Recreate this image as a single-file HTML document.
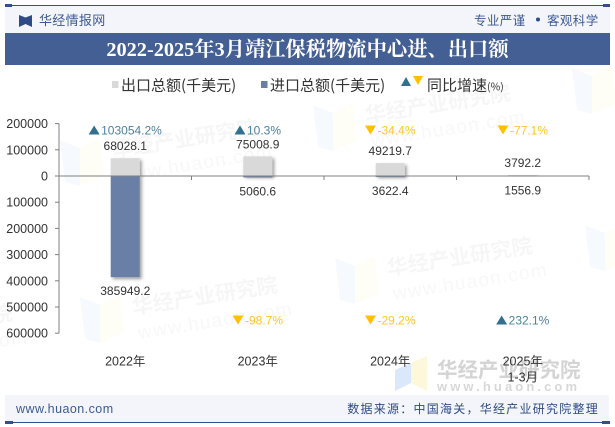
<!DOCTYPE html>
<html lang="zh">
<head>
<meta charset="utf-8">
<title>2022-2025年3月靖江保税物流中心进、出口额</title>
<style>
html,body{margin:0;padding:0;background:#fff;}
#stage{position:relative;width:615px;height:427px;overflow:hidden;background:#fff;}
svg{position:absolute;left:0;top:0;display:block;}
text{font-family:"Liberation Sans","Noto Sans CJK SC",sans-serif;}
.cjk{font-family:"Noto Sans CJK SC","WenQuanYi Zen Hei",sans-serif;}
.serif{font-family:"Liberation Serif","Noto Serif CJK SC",serif;}
</style>
</head>
<body>
<div id="stage">
<svg id="chart" width="615" height="427" viewBox="0 0 615 427" xmlns="http://www.w3.org/2000/svg">
  <defs>
    <filter id="barShadow" x="-30%" y="-30%" width="170%" height="170%">
      <feDropShadow dx="2" dy="2" stdDeviation="1.6" flood-color="#000" flood-opacity="0.38"/>
    </filter>
    <g id="wm">
      <polygon points="0,0 20,8 20,46 5,42" fill="#4a86d8" opacity="0.05"/>
      <polygon points="20,8 40,-2 44,36 20,46" fill="#f5d860" opacity="0.06"/>
      <g transform="rotate(-9 50 10)">
        <text x="52" y="18" font-size="21" font-weight="700" fill="#000" opacity="0.03" class="cjk">华经产业研究院</text>
        <text x="54" y="43" font-size="19" letter-spacing="1.3" fill="#000" opacity="0.028">www.huaon.com</text>
      </g>
    </g>
  </defs>

  <g>
    <use href="#wm" x="60" y="140"/>
    <use href="#wm" x="313" y="105"/>
    <use href="#wm" x="80" y="297"/>
    <use href="#wm" x="335" y="258"/>
    <use href="#wm" x="-185" y="325"/>
    <use href="#wm" x="585" y="225"/>
    <use href="#wm" x="572" y="68"/>
  </g>

  <g>
    <polygon points="395,370 411,363 411,383 395,391" fill="#dbe8fb"/>
    <polygon points="411,363 427,356 427,391 411,383" fill="#fdf8dc"/>
    <text x="437" y="377" font-size="20.5" font-weight="700" fill="#d4d4d4" class="cjk">华经产业研究院</text>
    <text x="437" y="391" font-size="13" font-weight="700" letter-spacing="3.1" fill="#d8d8d8">www.huaon.com</text>
  </g>

  <g>
    <rect x="5" y="6" width="605" height="27" fill="#f3f5fa"/>
    <rect x="5" y="5" width="605" height="1" fill="#32508f"/>
    <rect x="5" y="4" width="7" height="3" fill="#32508f"/>
    <rect x="603" y="4" width="7" height="3" fill="#32508f"/>
    <polygon points="19,15 25.500,17.500 25.500,24 19,27" fill="#2f4b87"/>
    <polygon points="32,15 25.500,17.500 25.500,24 32,27" fill="#2f4b87"/>
    <text x="39" y="25" font-size="13" letter-spacing="0.3" fill="#3e5a94" class="cjk">华经情报网</text>
    <text x="474" y="25" font-size="12.5" letter-spacing="0.4" fill="#3e5a94" class="cjk">专业严谨</text>
    <circle cx="538" cy="19.500" r="2" fill="#2f4b87"/>
    <text x="547" y="25" font-size="12.5" letter-spacing="0.4" fill="#3e5a94" class="cjk">客观科学</text>
    <rect x="5" y="33" width="605" height="32" fill="#445f94"/>
    <text x="307.500" y="56" font-size="20.3" font-weight="700" fill="#fff" text-anchor="middle" class="serif">2022-2025年3月靖江保税物流中心进、出口额</text>
  </g>

  <g>
    <g>
      <rect x="112" y="81" width="6.500" height="7" fill="#d9d9d9"/>
      <text x="121" y="90.500" font-size="15" fill="#333" class="cjk">出口总额(千美元)</text>
    </g>
    <g>
      <rect x="261" y="81" width="6.500" height="7" fill="#6b7fa5"/>
      <text x="270" y="90.500" font-size="15" fill="#333" class="cjk">进口总额(千美元)</text>
    </g>
    <g>
      <polygon points="401,86 406,77 411,86" fill="#33708f"/>
      <polygon points="413,76 423,76 418,85" fill="#ffc000"/>
      <text x="427" y="90.500" font-size="15" fill="#333" class="cjk">同比增速<tspan font-size="10.500">(%)</tspan></text>
    </g>
  </g>

  <g id="plot"></g>

  <g>
    <rect x="5" y="395" width="604" height="27" fill="#f3f5fa"/>
    <rect x="5" y="422" width="605" height="1" fill="#32508f"/>
    <rect x="5" y="421" width="8" height="3" fill="#32508f"/>
    <rect x="602" y="421" width="8" height="3" fill="#32508f"/>
    <text x="16" y="413" font-size="12.5" letter-spacing="0.45" fill="#3e5a94">www.huaon.com</text>
    <text x="599" y="413" font-size="12" letter-spacing="1.25" fill="#2f4b87" text-anchor="end" class="cjk">数据来源：中国海关，华经产业研究院整理</text>
  </g>
</svg>
</div>
<script>
const categories = ["2022年", "2023年", "2024年", "2025年\n1-3月"];
const exportValues = [68028.1, 75008.9, 49219.7, 3792.2];
const importValues = [385949.2, 5060.6, 3622.4, 1556.9];
const exportGrowth = [103054.2, 10.3, -34.4, -77.1];
const importGrowth = [null, -98.7, -29.2, 232.1];
const tickValues = [200000, 100000, 0, -100000, -200000, -300000, -400000, -500000, -600000];

const SVG_NS = "http://www.w3.org/2000/svg";
const plot = document.getElementById("plot");
const plotLeft = 59, plotRight = 589, zeroY = 176, pxPerUnit = 26.2 / 100000;
const bandWidth = (plotRight - plotLeft) / categories.length;
const barWidth = 29;
const exportGrowthY = 130, importGrowthY = 320;

function yScale(v) { return zeroY - v * pxPerUnit; }
function xBand(i) { return plotLeft + bandWidth * i; }
function xCenter(i) { return xBand(i) + bandWidth / 2; }

function make(tag, attrs, parent) {
  const el = document.createElementNS(SVG_NS, tag);
  for (const k in attrs) el.setAttribute(k, attrs[k]);
  (parent || plot).appendChild(el);
  return el;
}

/* y axis */
const yAxis = make("line", { x1: plotLeft, x2: plotLeft, y1: yScale(tickValues[0]), y2: yScale(tickValues[tickValues.length - 1]), stroke: "#808080", "stroke-width": 1 });



tickValues.forEach(function (t) {
  const tick = make("line", { x1: plotLeft - 4, x2: plotLeft, y1: yScale(t), y2: yScale(t), stroke: "#808080", "stroke-width": 1 });
  
  
  const label = make("text", { x: plotLeft - 11, y: yScale(t) + 4.5, "font-size": 12.5, fill: "#333", "text-anchor": "end" });
  
  
  label.textContent = String(Math.abs(t));
});

/* bars */
categories.forEach(function (c, i) {
  const left = xCenter(i) - barWidth / 2;
  const exportTop = yScale(exportValues[i]);
  const exportBar = make("rect", { x: left, y: exportTop, width: barWidth, height: zeroY - exportTop, fill: "#d9d9d9", filter: "url(#barShadow)" });
  
  
  const importBottom = yScale(-importValues[i]);
  const importBar = make("rect", { x: left, y: zeroY, width: barWidth, height: importBottom - zeroY, fill: "#6b7fa5", filter: "url(#barShadow)" });
  
  
});

/* x axis drawn above bars */
const xAxis = make("line", { x1: plotLeft, x2: plotRight, y1: zeroY, y2: zeroY, stroke: "#808080", "stroke-width": 1 });



for (let i = 1; i <= categories.length; i++) {
  const tick = make("line", { x1: xBand(i), x2: xBand(i), y1: zeroY, y2: zeroY + 4, stroke: "#808080", "stroke-width": 1 });
  
  
}

/* value and category labels */
categories.forEach(function (c, i) {
  const exportLabel = make("text", { x: xCenter(i), y: yScale(exportValues[i]) - 8, "font-size": 12, fill: "#333", "text-anchor": "middle" });
  
  
  exportLabel.textContent = exportValues[i].toFixed(1);

  const importLabel = make("text", { x: xCenter(i), y: Math.max(yScale(-importValues[i]), zeroY) + 18, "font-size": 12, fill: "#333", "text-anchor": "middle" });
  
  
  importLabel.textContent = importValues[i].toFixed(1);

  c.split("\n").forEach(function (line, n) {
    const catLabel = make("text", { x: xCenter(i), y: 365.500 + n * 16, "font-size": 12.5, fill: "#333", "text-anchor": "middle" });
    
    
    catLabel.textContent = line;
  });
});

/* growth markers */
function drawGrowth(v, i, rowY, name) {
  if (v === null) return;
  const up = v >= 0;
  const color = up ? "#33708f" : "#ffc000";
  const text = make("text", { x: 0, y: rowY + 4.5, "font-size": 12, fill: up ? "#4d809c" : "#ffc629" });
  
  
  text.textContent = v.toFixed(1) + "%";
  const textW = text.getComputedTextLength();
  const markW = 11, gap = 1.5;
  const start = xCenter(i) - (markW + gap + textW) / 2;
  text.setAttribute("x", start + markW + gap);
  const pts = up
    ? [[start, rowY + 4.5], [start + markW / 2, rowY - 4.5], [start + markW, rowY + 4.5]]
    : [[start, rowY - 4.5], [start + markW, rowY - 4.5], [start + markW / 2, rowY + 4.5]];
  const marker = make("polygon", { points: pts.map(function (p) { return p.join(","); }).join(" "), fill: color });
  
  
}

categories.forEach(function (c, i) {
  drawGrowth(exportGrowth[i], i, exportGrowthY, 'export-growth');
  drawGrowth(importGrowth[i], i, importGrowthY, 'import-growth');
});
</script>
</body>
</html>
